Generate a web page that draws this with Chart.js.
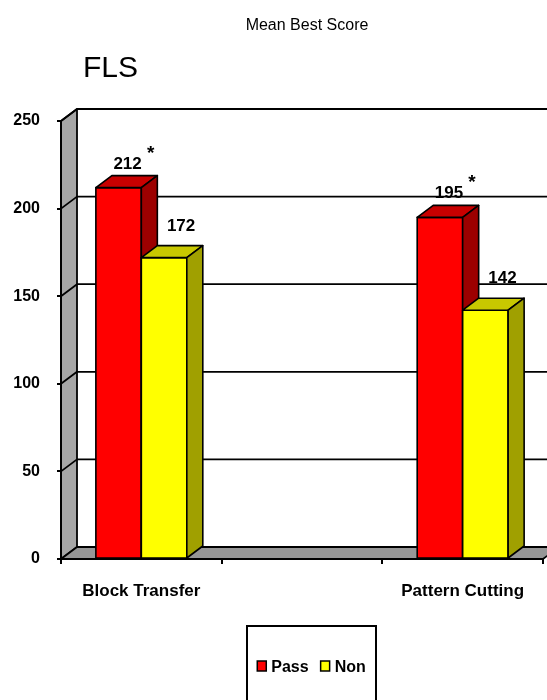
<!DOCTYPE html>
<html>
<head>
<meta charset="utf-8">
<script src="https://cdn.jsdelivr.net/npm/chart.js@4.4.0/dist/chart.umd.min.js"></script>
<style>
  html, body { margin: 0; padding: 0; background: #fff; }
  canvas { display: block; }
</style>
</head>
<body>
<canvas id="chart" width="547" height="700"></canvas>
<script>
// Mean best score, pass vs non
const categories = ['Block Transfer', '', 'Pattern Cutting'];
const passScores = [212, null, 195];
const nonScores = [172, null, 142];
const passMarks = ['*', '', '*'];
const yTicks = [0, 50, 100, 150, 200, 250];

const FONT = '"Liberation Sans", Arial, sans-serif';
const depth = { dx: 16, dy: -12 };

// face colours per series: front, top, side
const faces = [
  { front: '#ff0000', top: '#c80000', side: '#9c0000' },
  { front: '#ffff00', top: '#c8c800', side: '#a0a000' }
];
// where the value text sits relative to the front top of each bar
const labelShift = [{ x: 9, y: 19 }, { x: 17, y: 27 }];

const poly = (ctx, pts, fill) => {
  ctx.beginPath();
  ctx.moveTo(pts[0][0], pts[0][1]);
  pts.slice(1).forEach(p => ctx.lineTo(p[0], p[1]));
  ctx.closePath();
  if (fill) {
    ctx.fillStyle = fill;
    ctx.fill();
  }
  ctx.stroke();
};

const walls = {
  id: 'walls',
  beforeDraw(chart) {
    const { ctx, chartArea: ca, scales: { y } } = chart;
    const { dx, dy } = depth;
    const top = y.getPixelForValue(y.max);
    const bottom = y.getPixelForValue(0);
    ctx.save();
    ctx.strokeStyle = '#000';
    ctx.lineWidth = 1.8;
    ctx.lineJoin = 'round';

    // side wall and floor
    poly(ctx, [[ca.left, top], [ca.left + dx, top + dy], [ca.left + dx, bottom + dy], [ca.left, bottom]], '#a6a6a6');
    poly(ctx, [[ca.left, bottom], [ca.right, bottom], [ca.right + dx, bottom + dy], [ca.left + dx, bottom + dy]], '#969696');

    // grid lines on the back wall
    yTicks.forEach(v => {
      if (v === 0) return;
      const py = y.getPixelForValue(v);
      ctx.beginPath();
      ctx.moveTo(ca.left, py);
      ctx.lineTo(ca.left + dx, py + dy);
      ctx.lineTo(ca.right + dx, py + dy);
      ctx.stroke();
    });

    // headings
    ctx.fillStyle = '#000';
    ctx.textBaseline = 'alphabetic';
    ctx.textAlign = 'center';
    ctx.font = '16px ' + FONT;
    ctx.fillText('Mean Best Score', 307, 30);
    ctx.textAlign = 'left';
    ctx.font = '30px ' + FONT;
    ctx.fillText('FLS', 83, 77);
    ctx.restore();
  }
};

const bars3d = {
  id: 'bars3d',
  afterDatasetsDraw(chart) {
    const { ctx } = chart;
    const { dx, dy } = depth;
    ctx.save();
    ctx.strokeStyle = '#000';
    ctx.lineWidth = 1.6;
    ctx.lineJoin = 'round';

    categories.forEach((cat, i) => {
      chart.data.datasets.forEach((ds, d) => {
        const v = ds.data[i];
        if (v == null) return;
        const bar = chart.getDatasetMeta(d).data[i];
        const { x, y, base, width } = bar.getProps(['x', 'y', 'base', 'width'], true);
        const x0 = x - width / 2;
        const x1 = x + width / 2;
        const c = faces[d];
        poly(ctx, [[x0, y], [x1, y], [x1, base], [x0, base]], c.front);
        poly(ctx, [[x0, y], [x1, y], [x1 + dx, y + dy], [x0 + dx, y + dy]], c.top);
        poly(ctx, [[x1, y], [x1 + dx, y + dy], [x1 + dx, base + dy], [x1, base]], c.side);
      });
    });

    // values and significance marks
    ctx.fillStyle = '#000';
    ctx.textAlign = 'center';
    ctx.textBaseline = 'alphabetic';
    categories.forEach((cat, i) => {
      chart.data.datasets.forEach((ds, d) => {
        const v = ds.data[i];
        if (v == null) return;
        const bar = chart.getDatasetMeta(d).data[i];
        const lx = bar.x + labelShift[d].x;
        const ly = bar.y - labelShift[d].y;
        ctx.font = 'bold 17px ' + FONT;
        ctx.fillText(String(v), lx, ly);
        if (d === 0 && passMarks[i]) {
          ctx.font = 'bold 19px ' + FONT;
          ctx.fillText(passMarks[i], lx + 23, ly - 10);
        }
      });
    });
    ctx.restore();
  }
};

const boxLegend = {
  id: 'boxLegend',
  afterDraw(chart) {
    const { ctx } = chart;
    const box = { left: 247, top: 626, width: 129, height: 110 };
    const base = 672;
    ctx.save();
    ctx.strokeStyle = '#000';
    ctx.lineWidth = 2;
    ctx.strokeRect(box.left, box.top, box.width, box.height);

    ctx.font = 'bold 16px ' + FONT;
    ctx.textBaseline = 'alphabetic';
    ctx.textAlign = 'left';
    const items = chart.data.datasets.map((ds, d) => ({ text: ds.label, color: faces[d].front }));
    const mark = 9, gap = 5, space = 12;
    const total = items.reduce((s, it) => s + mark + gap + ctx.measureText(it.text).width, 0) + space * (items.length - 1);
    let x = box.left + box.width / 2 - total / 2;
    items.forEach(it => {
      ctx.fillStyle = it.color;
      ctx.lineWidth = 1.5;
      ctx.fillRect(x, base - 11, mark, 10);
      ctx.strokeRect(x, base - 11, mark, 10);
      x += mark + gap;
      ctx.fillStyle = '#000';
      ctx.fillText(it.text, x, base);
      x += ctx.measureText(it.text).width + space;
    });
    ctx.restore();
  }
};

const tickFont = { family: FONT, size: 16, weight: 'bold' };

new Chart(document.getElementById('chart'), {
  type: 'bar',
  data: {
    labels: categories,
    datasets: [
      {
        label: 'Pass',
        data: passScores,
        backgroundColor: faces[0].front,
        borderColor: '#000',
        borderWidth: 1.5,
        categoryPercentage: 0.566,
        barPercentage: 1
      },
      {
        label: 'Non',
        data: nonScores,
        backgroundColor: faces[1].front,
        borderColor: '#000',
        borderWidth: 1.5,
        categoryPercentage: 0.566,
        barPercentage: 1
      }
    ]
  },
  options: {
    responsive: false,
    animation: false,
    layout: { padding: { top: 121, left: 0, right: 4, bottom: 81 } },
    plugins: {
      legend: { display: false },
      title: { display: false },
      tooltip: { enabled: false }
    },
    scales: {
      x: {
        grid: { drawOnChartArea: false, drawTicks: true, tickLength: 5, color: '#000', lineWidth: 2, offset: true },
        border: { color: '#000', width: 2 },
        ticks: { color: '#000', font: { ...tickFont, size: 17 }, padding: 17, maxRotation: 0, autoSkip: false },
        afterFit: (s) => { s.height = 60; }
      },
      y: {
        min: 0,
        max: 250,
        grid: { drawOnChartArea: false, tickLength: 4, color: '#000', lineWidth: 2 },
        border: { color: '#000', width: 2 },
        ticks: { color: '#000', font: tickFont, padding: 17, stepSize: 50 },
        afterFit: (s) => { s.width = 61; }
      }
    }
  },
  plugins: [walls, bars3d, boxLegend]
});
</script>
</body>
</html>
